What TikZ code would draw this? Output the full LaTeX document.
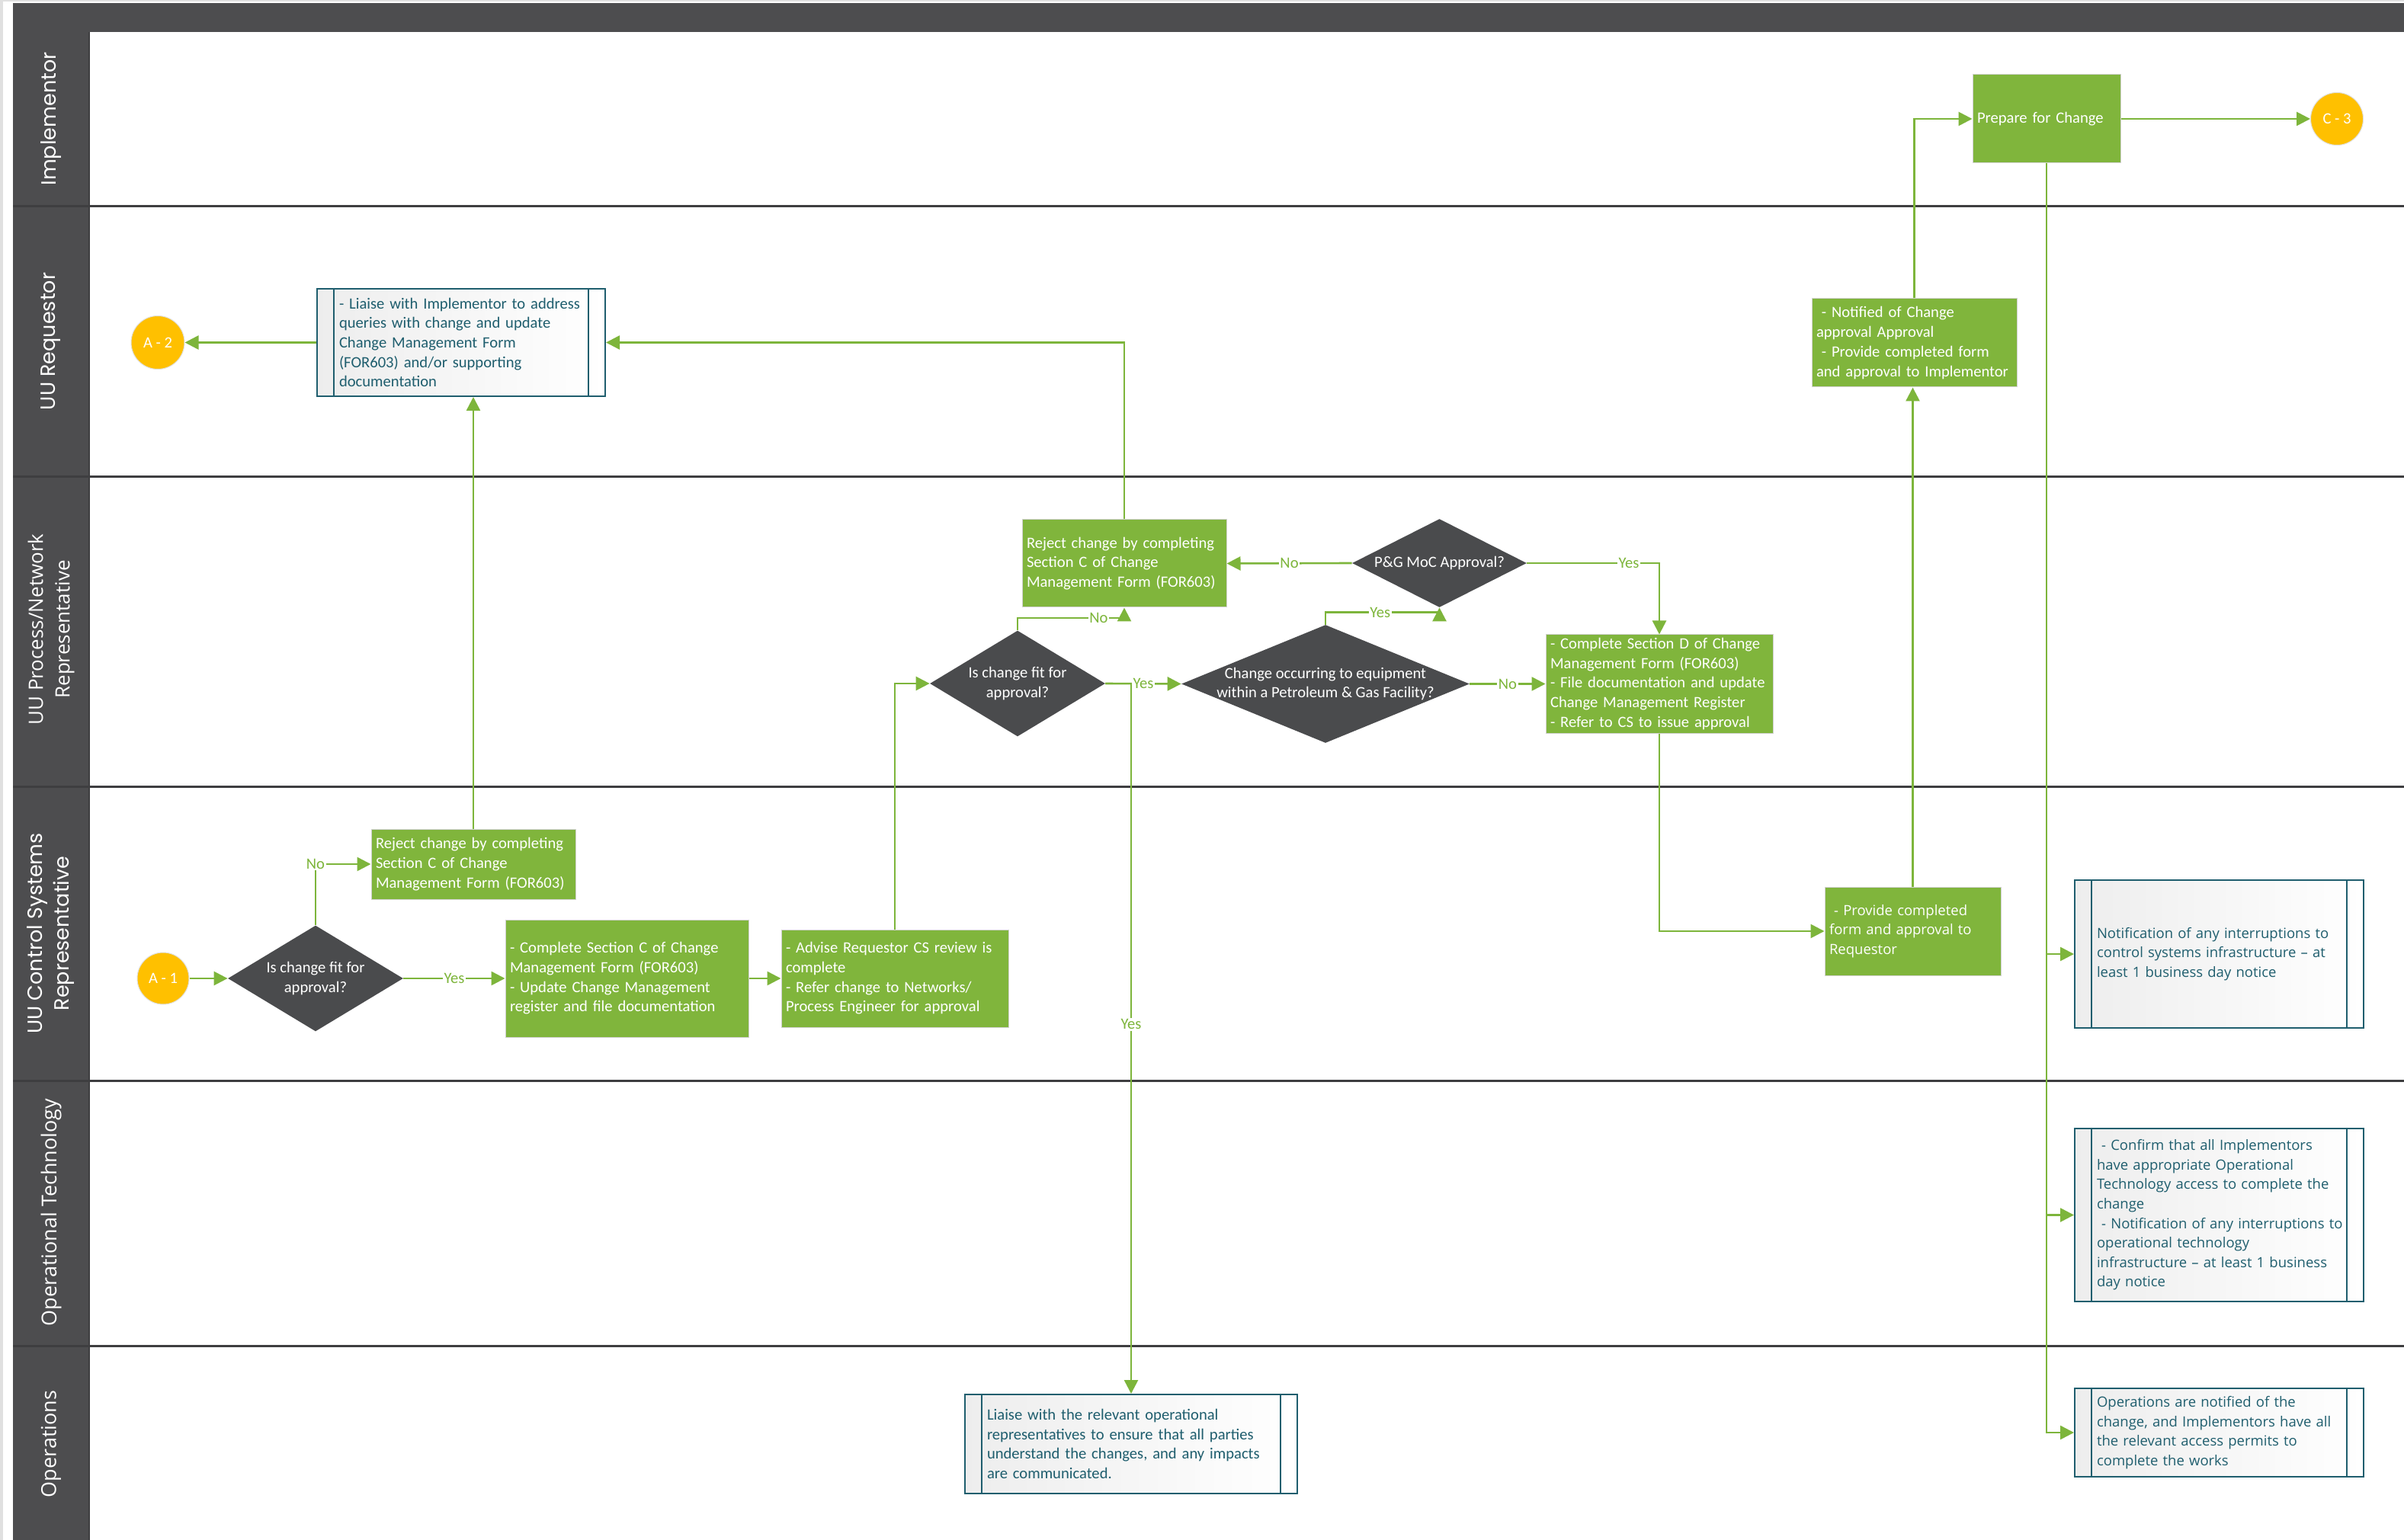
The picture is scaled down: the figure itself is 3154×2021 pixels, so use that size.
\documentclass[tikz,border=0pt]{standalone}
\usepackage{fontspec}
\setmainfont{Carlito}
\newfontfamily\segoe{Open Sans}
\newfontfamily\gothic{Poppins}
\usetikzlibrary{shapes.geometric,arrows.meta,calc}
\definecolor{lgreen}{HTML}{7DB53B}
\definecolor{boxgreen}{HTML}{80B53C}
\definecolor{dgray}{HTML}{4A4B4D}
\definecolor{lanegray}{HTML}{4D4D4F}
\definecolor{sepgray}{HTML}{3E3E40}
\definecolor{tealb}{HTML}{1F5E6E}
\definecolor{orng}{HTML}{FFC000}
\newcommand\ml[1]{\mbox{#1}}
\newcommand\subbars[1]{\draw[subline] ([xshift=11.5pt]#1.north west) -- ([xshift=11.5pt]#1.south west) ([xshift=-11.5pt]#1.north east) -- ([xshift=-11.5pt]#1.south east);}
\begin{document}
\begin{tikzpicture}[x=0.5pt,y=-0.5pt,
  calib/.style={font=\fontsize{10.3pt}{12.85pt}\selectfont},
  segf/.style={font=\segoe\fontsize{9.25pt}{12.8pt}\selectfont},
  gbox/.style={rectangle, fill=boxgreen, draw=black!18, line width=0.5pt, text=white, calib, align=left, inner xsep=3pt, inner ysep=0pt},
  sub/.style={rectangle, draw=tealb, line width=1pt, left color=black!7, right color=white, text=tealb, calib, align=left, inner xsep=14.5pt, inner ysep=0pt},
  subline/.style={draw=tealb, line width=1pt},
  dia/.style={diamond, fill=dgray, inner sep=0pt},
  diatext/.style={text=white, calib, align=center},
  conn/.style={circle, fill=orng, draw=black!12, line width=0.5pt, text=white, calib, inner sep=0pt},
  lanelbl/.style={rotate=90, text=white, align=center},
  sep/.style={draw=sepgray, line width=1.5pt},
  arr/.style={draw=lgreen, line width=1.3pt, -{Triangle[length=9pt,width=9pt]}},
  lbl/.style={fill=white, text=lgreen, calib, inner sep=0.8pt}
]
\useasboundingbox (0,0) rectangle (3154,2021);
\fill[white] (0,0) rectangle (3154,2021);
% frame
\fill[black!12] (0,0) rectangle (4,2021);
\fill[black!12] (0,0) rectangle (3154,2);
\fill[lanegray] (17,4) rectangle (3154,42);
\fill[lanegray] (17,42) rectangle (117,2021);
\draw[sepgray, line width=1pt] (117,42) -- (117,2021);
% lane separators
\foreach \yy in {271,626,1032,1418,1766}{\draw[sep] (17,\yy) -- (3154,\yy);}
% lane labels
\node[lanelbl, font=\gothic\fontsize{13.5pt}{17.5pt}\selectfont] (lImpl) at (67,156) {Implementor};
\node[lanelbl, font=\gothic\fontsize{13.5pt}{17.5pt}\selectfont] (lReq) at (67,448) {UU Requestor};
\node[lanelbl, font=\segoe\fontsize{13pt}{17.5pt}\selectfont] (lPN) at (67,826) {UU Process/Network\\Representative};
\node[lanelbl, font=\gothic\fontsize{13.5pt}{17.5pt}\selectfont] (lCS) at (67,1225) {UU Control Systems\\Representative};
\node[lanelbl, font=\segoe\fontsize{13.5pt}{17.5pt}\selectfont] (lOT) at (67,1591) {Operational Technology};
\node[lanelbl, font=\segoe\fontsize{13.5pt}{17.5pt}\selectfont] (lOps) at (67,1895) {Operations};

% connectors (circles)
\node[conn, minimum size=35pt] (A2) at (207,449.5) {A - 2};
\node[conn, minimum size=34pt] (A1) at (214,1284) {A - 1};
\node[conn, minimum size=34.5pt] (C3) at (3066,156) {C - 3};

% green boxes
\node[gbox, minimum width=97pt, minimum height=58pt, text width=91pt] (prep) at (2685,156) {\ml{Prepare for Change}};
\node[gbox, minimum width=134.5pt, minimum height=58pt, text width=128.5pt] (notif) at (2511.5,450) {\ml{\ - Notified of Change}\\\ml{approval Approval}\\\ml{\ - Provide completed form}\\\ml{and approval to Implementor}};
\node[gbox, segf, minimum width=115.5pt, minimum height=58pt, text width=109.5pt] (provide) at (2509.5,1222) {\ml{\ - Provide completed}\\\ml{form and approval to}\\\ml{Requestor}};
\node[gbox, minimum width=149pt, minimum height=64.5pt, text width=143pt] (dbox) at (2177,897.5) {\ml{- Complete Section D of Change}\\\ml{Management Form (FOR603)}\\\ml{- File documentation and update}\\\ml{Change Management Register}\\\ml{- Refer to CS to issue approval}};
\node[gbox, minimum width=134pt, minimum height=57.5pt, text width=128pt] (rej2) at (1475,739.5) {\ml{Reject change by completing}\\\ml{Section C of Change}\\\ml{Management Form (FOR603)}};
\node[gbox, minimum width=134pt, minimum height=46pt, text width=128pt] (rej1) at (621,1134) {\ml{Reject change by completing}\\\ml{Section C of Change}\\\ml{Management Form (FOR603)}};
\node[gbox, minimum width=159.5pt, minimum height=77pt, text width=153.5pt] (compC) at (822.5,1284) {\ml{- Complete Section C of Change}\\\ml{Management Form (FOR603)}\\\ml{- Update Change Management}\\\ml{register and file documentation}};
\node[gbox, minimum width=149pt, minimum height=64pt, text width=143pt] (advise) at (1174,1284) {\ml{- Advise Requestor CS review is}\\\ml{complete}\\\ml{- Refer change to Networks/}\\\ml{Process Engineer for approval}};

% decisions
\node[dia, minimum width=115pt, minimum height=69.5pt, label={[diatext]center:Is change fit for\\approval?}] (dec1) at (414,1284) {};
\node[dia, minimum width=115pt, minimum height=69.5pt, label={[diatext]center:Is change fit for\\approval?}] (dec2) at (1335,897) {};
\node[dia, minimum width=189pt, minimum height=77.5pt, label={[diatext]center:Change occurring to equipment\\within a Petroleum \& Gas Facility?}] (dec3) at (1739,897.5) {};
\node[dia, minimum width=114.5pt, minimum height=58pt, label={[diatext]center:P\&G MoC Approval?}] (dec4) at (1888.5,739) {};

% subprocess boxes
\node[sub, minimum width=189pt, minimum height=70.5pt, text width=160pt] (liaise) at (605,449.5) {\ml{- Liaise with Implementor to address}\\\ml{queries with change and update}\\\ml{Change Management Form}\\\ml{(FOR603) and/or supporting}\\\ml{documentation}};
\subbars{liaise}
\node[sub, minimum width=218pt, minimum height=65pt, text width=189pt] (ops) at (1484,1895) {\ml{Liaise with the relevant operational}\\\ml{representatives to ensure that all parties}\\\ml{understand the changes, and any impacts}\\\ml{are communicated.}};
\subbars{ops}
\node[sub, segf, minimum width=189.5pt, minimum height=97pt, text width=160.5pt] (r1) at (2911.5,1252) {\ml{Notification of any interruptions to}\\\ml{control systems infrastructure – at}\\\ml{least 1 business day notice}};
\subbars{r1}
\node[sub, segf, minimum width=189.5pt, minimum height=113.5pt, text width=160.5pt] (r2) at (2911.5,1594.5) {\ml{\ - Confirm that all Implementors}\\\ml{have appropriate Operational}\\\ml{Technology access to complete the}\\\ml{change}\\\ml{\ - Notification of any interruptions to}\\\ml{operational technology}\\\ml{infrastructure – at least 1 business}\\\ml{day notice}};
\subbars{r2}
\node[sub, segf, minimum width=189.5pt, minimum height=58pt, text width=160.5pt] (r3) at (2911.5,1880) {\ml{Operations are notified of the}\\\ml{change, and Implementors have all}\\\ml{the relevant access permits to}\\\ml{complete the works}};
\subbars{r3}

% flows
\draw[arr] (liaise.west) -- (A2.east);
\draw[arr] (rej2.north) |- (liaise.east);
\draw[arr] (rej1.north) -- (rej1.north |- liaise.south);
\draw[arr] (A1.east) -- (dec1.west);
\draw[arr] (dec1.north) |- node[lbl,pos=0.5]{No} (rej1.west);
\draw[arr] (dec1.east) -- node[lbl]{Yes} (compC.west);
\draw[arr] (compC.east) -- (advise.west);
\draw[arr] (advise.north) |- (dec2.west);
\draw[arr] (dec2.north) -- ++(0,-16) -| node[lbl,pos=0.38]{No} (rej2.south);
\draw[arr] (dec2.east) -| node[lbl,pos=0.74]{Yes} (ops.north);
\draw[arr] (dec2.east) -- node[lbl]{Yes} (dec3.west);
\draw[arr] (dec3.north) -- ++(0,-16) -| node[lbl,pos=0.24]{Yes} (dec4.south);
\draw[arr] (dec3.east) -- node[lbl]{No} (dbox.west);
\draw[arr] (dec4.west) -- node[lbl]{No} (rej2.east);
\draw[arr] (dec4.east) -| node[lbl,pos=0.385]{Yes} (dbox.north);
\draw[arr] (dbox.south) |- (provide.west);
\draw[arr] (provide.north) -- (provide.north |- notif.south);
\draw[arr] (notif.north) |- (prep.west);
\draw[arr] (prep.east) -- (C3.west);
\draw[arr] (prep.south) |- (r1.west);
\draw[arr] (prep.south) |- (r2.west);
\draw[arr] (prep.south) |- (r3.west);
\end{tikzpicture}
\end{document}
